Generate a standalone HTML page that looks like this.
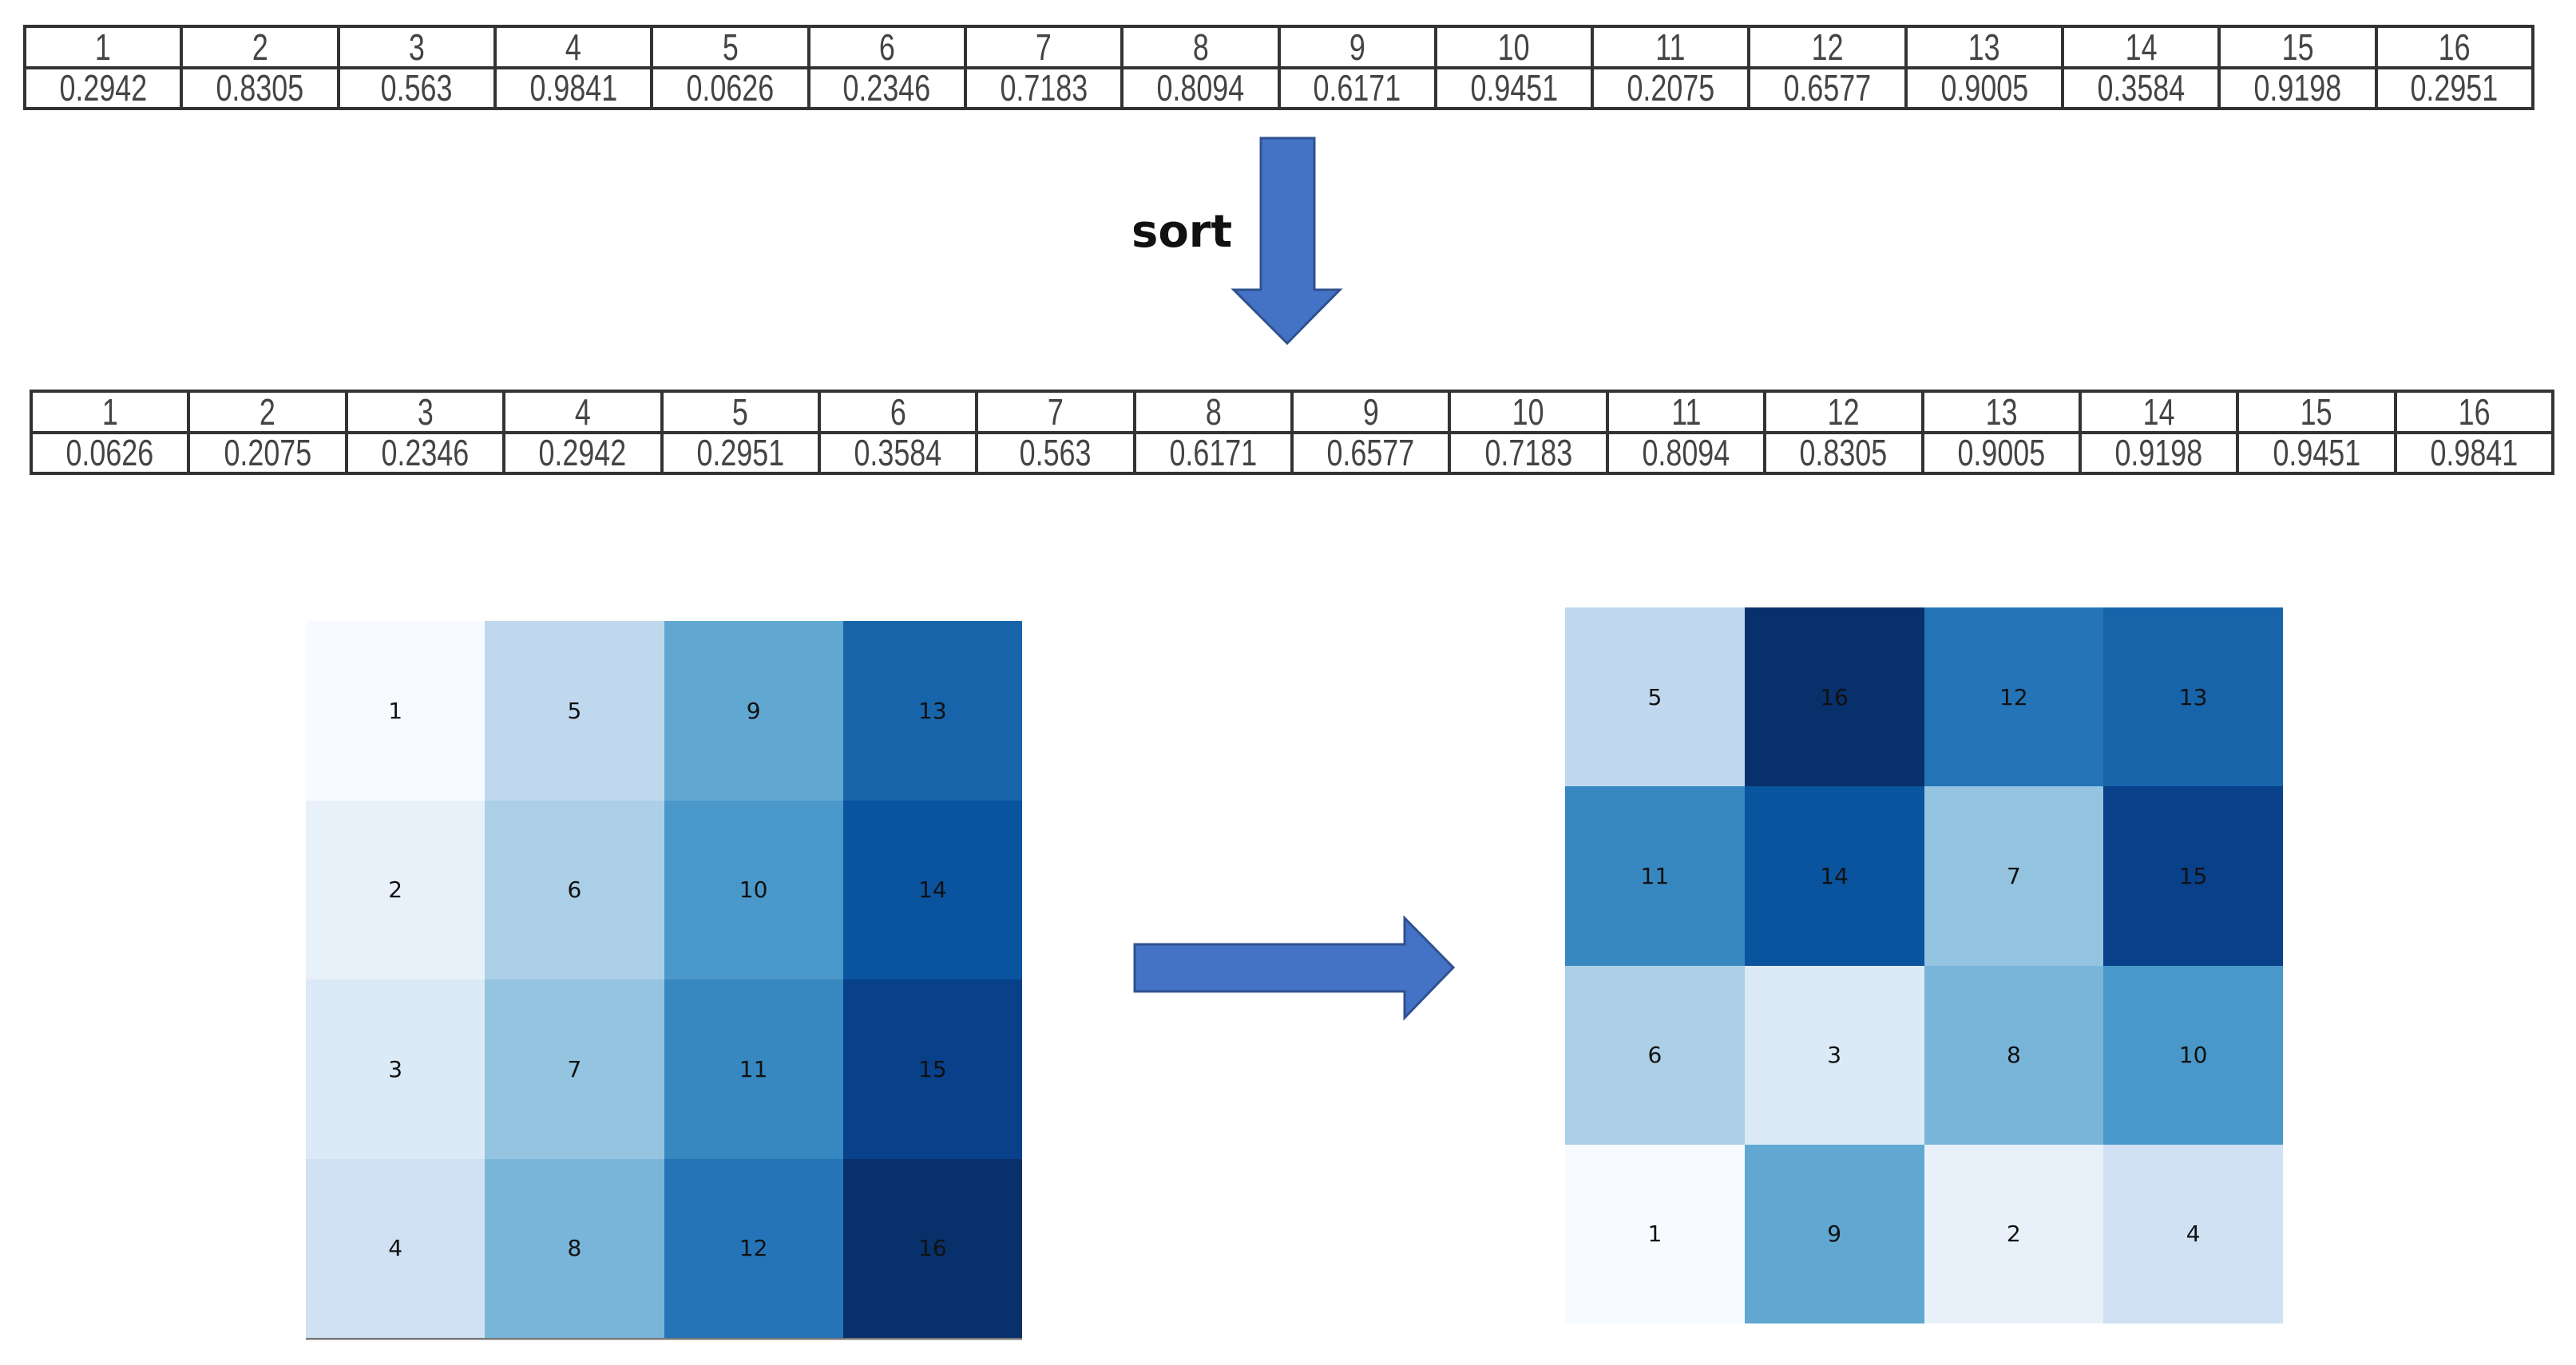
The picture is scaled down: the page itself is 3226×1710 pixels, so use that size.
<!DOCTYPE html>
<html><head><meta charset="utf-8"><style>
body{margin:0;width:3226px;height:1710px;background:#fff;position:relative;overflow:hidden}
table{position:absolute;border-collapse:collapse;table-layout:fixed}
td{border:4px solid #333;text-align:center;font-family:"Liberation Sans",sans-serif;font-size:46px;color:#444;padding:0;line-height:1}
td span{display:inline-block;transform:scaleX(0.78)}
.g{position:absolute;display:grid;grid-template-columns:repeat(4,1fr);grid-template-rows:repeat(4,1fr)}
.g div{display:flex;align-items:center;justify-content:center;font-family:"DejaVu Sans",sans-serif;font-size:28px;color:#111}
</style></head><body>
<table style="left:29px;top:31px;width:3145px;height:107px">
<tr><td><span>1</span></td><td><span>2</span></td><td><span>3</span></td><td><span>4</span></td><td><span>5</span></td><td><span>6</span></td><td><span>7</span></td><td><span>8</span></td><td><span>9</span></td><td><span>10</span></td><td><span>11</span></td><td><span>12</span></td><td><span>13</span></td><td><span>14</span></td><td><span>15</span></td><td><span>16</span></td></tr>
<tr><td><span>0.2942</span></td><td><span>0.8305</span></td><td><span>0.563</span></td><td><span>0.9841</span></td><td><span>0.0626</span></td><td><span>0.2346</span></td><td><span>0.7183</span></td><td><span>0.8094</span></td><td><span>0.6171</span></td><td><span>0.9451</span></td><td><span>0.2075</span></td><td><span>0.6577</span></td><td><span>0.9005</span></td><td><span>0.3584</span></td><td><span>0.9198</span></td><td><span>0.2951</span></td></tr>
</table>
<table style="left:37px;top:488px;width:3162px;height:107px">
<tr><td><span>1</span></td><td><span>2</span></td><td><span>3</span></td><td><span>4</span></td><td><span>5</span></td><td><span>6</span></td><td><span>7</span></td><td><span>8</span></td><td><span>9</span></td><td><span>10</span></td><td><span>11</span></td><td><span>12</span></td><td><span>13</span></td><td><span>14</span></td><td><span>15</span></td><td><span>16</span></td></tr>
<tr><td><span>0.0626</span></td><td><span>0.2075</span></td><td><span>0.2346</span></td><td><span>0.2942</span></td><td><span>0.2951</span></td><td><span>0.3584</span></td><td><span>0.563</span></td><td><span>0.6171</span></td><td><span>0.6577</span></td><td><span>0.7183</span></td><td><span>0.8094</span></td><td><span>0.8305</span></td><td><span>0.9005</span></td><td><span>0.9198</span></td><td><span>0.9451</span></td><td><span>0.9841</span></td></tr>
</table>
<div style="position:absolute;left:1417px;top:258px;font-family:'DejaVu Sans',sans-serif;font-weight:bold;font-size:56px;color:#111">sort</div>
<svg style="position:absolute;left:0;top:0" width="3226" height="1710">
<polygon points="1579,173 1646,173 1646,363 1678,363 1612,430 1545,363 1579,363" fill="#4472c4" stroke="#2f528f" stroke-width="3"/>
<polygon points="1421,1183 1759,1183 1759,1150 1820,1212 1759,1275 1759,1242 1421,1242" fill="#4472c4" stroke="#2f528f" stroke-width="3"/>
<line x1="383" y1="1677" x2="1280" y2="1677" stroke="#777" stroke-width="3"/>
</svg>
<div class="g" style="left:383px;top:778px;width:897px;height:898px;grid-auto-flow:column">
<div style="background:#f7fbff">1</div><div style="background:#e8f1fa">2</div><div style="background:#dce9f6">3</div><div style="background:#cfe1f2">4</div>
<div style="background:#bfd8ed">5</div><div style="background:#abcfe6">6</div><div style="background:#94c4df">7</div><div style="background:#79b5d9">8</div>
<div style="background:#60a7d2">9</div><div style="background:#4a98c9">10</div><div style="background:#3787c0">11</div><div style="background:#2474b7">12</div>
<div style="background:#1764ab">13</div><div style="background:#0a539e">14</div><div style="background:#08408a">15</div><div style="background:#08306b">16</div>
</div>
<div class="g" style="left:1960px;top:761px;width:899px;height:897px">
<div style="background:#bfd8ed">5</div><div style="background:#08306b">16</div><div style="background:#2474b7">12</div><div style="background:#1764ab">13</div>
<div style="background:#3787c0">11</div><div style="background:#0a539e">14</div><div style="background:#94c4df">7</div><div style="background:#08408a">15</div>
<div style="background:#abcfe6">6</div><div style="background:#dce9f6">3</div><div style="background:#79b5d9">8</div><div style="background:#4a98c9">10</div>
<div style="background:#f7fbff">1</div><div style="background:#60a7d2">9</div><div style="background:#e8f1fa">2</div><div style="background:#cfe1f2">4</div>
</div>
</body></html>
